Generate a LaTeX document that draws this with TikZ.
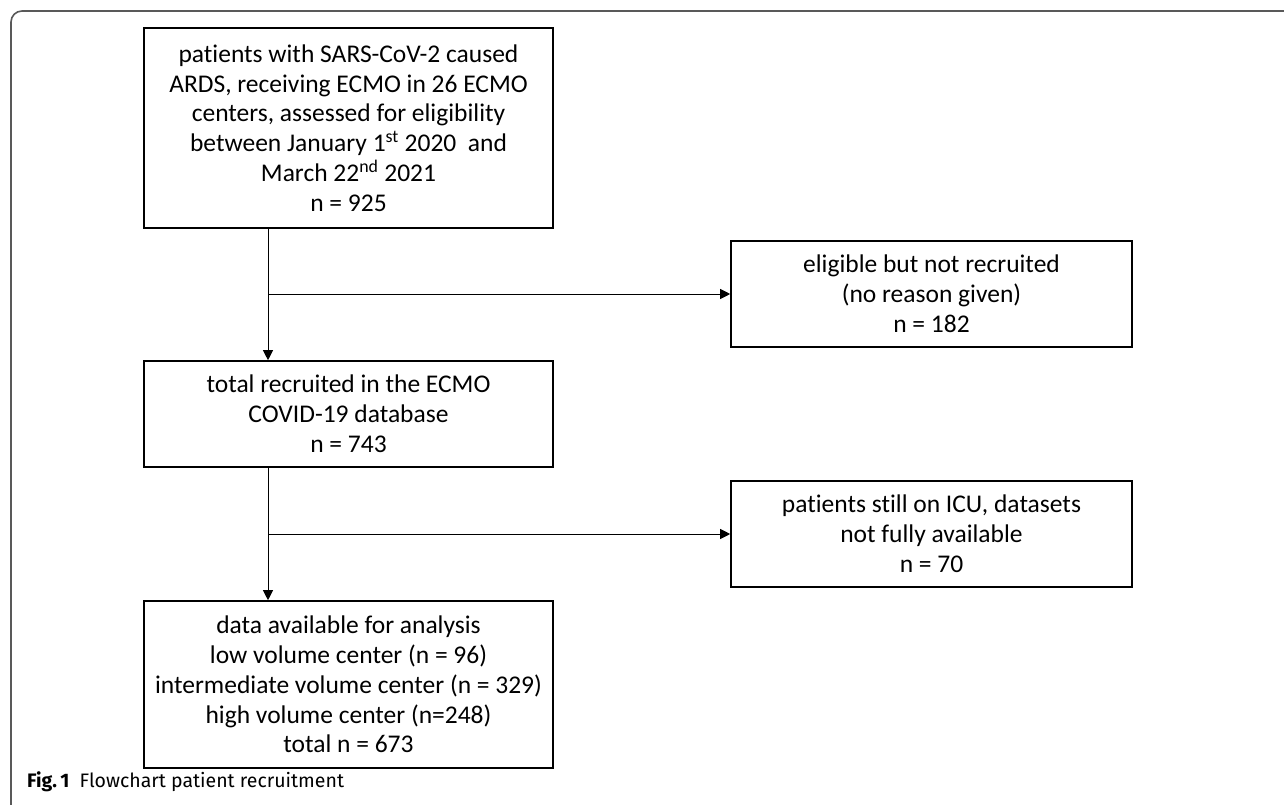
\documentclass[tikz,border=0pt]{standalone}
\usepackage{fontspec}
\setmainfont{Carlito}[Ligatures=NoCommon]
\newfontfamily\capfont{Fira Sans}[Ligatures=NoCommon]
\usepackage{tikz}
\usetikzlibrary{arrows.meta,positioning,calc}

\begin{document}
\begin{tikzpicture}[
  x=1pt, y=-1pt,
  block/.style={draw, line width=1.6pt, minimum width=409pt, align=center,
                font=\fontsize{25.5}{29.8}\selectfont, inner sep=0pt},
  sidebox/.style={block, minimum width=401pt, minimum height=106pt},
  arr/.style={-{Triangle[length=10pt,width=10pt]}, line width=0.9pt},
  frame/.style={draw=black!65, line width=1.6pt, rounded corners=11pt}
]
\useasboundingbox (0,0) rectangle (1284,805);
\draw[frame] (11,810) -- (11,11) -- (1290,11);

\node[block, minimum height=200pt] (screen) at (348.5,128)
  {patients with SARS-CoV-2 caused\\ARDS, receiving ECMO in 26 ECMO\\centers, assessed for eligibility\\between January 1\textsuperscript{st} 2020\ \ and\\March 22\textsuperscript{nd} 2021\\n = 925};
\node[sidebox] (notrec) at (931.5,294)
  {eligible but not recruited\\(no reason given)\\n = 182};
\node[block, minimum height=106pt] (recruited) at (348.5,414)
  {total recruited in the ECMO\\COVID-19 database\\n = 743};
\node[sidebox] (icu) at (931.5,534)
  {patients still on ICU, datasets\\not fully available\\n = 70};
\node[block, minimum height=167pt] (analysis) at (348.5,684.5)
  {data available for analysis\\low volume center (n = 96)\\intermediate volume center (n = 329)\\high volume center (n=248)\\total n = 673};

% main line, left of the box centres
\coordinate (spine) at (268,0);
\draw[arr] (screen.south -| spine) -- (recruited.north -| spine);
\draw[arr] (recruited.south -| spine) -- (analysis.north -| spine);
\draw[arr] (spine |- notrec) -- (notrec.west);
\draw[arr] (spine |- icu) -- (icu.west);

\node[anchor=base west, inner sep=0pt, font=\capfont\fontsize{19.5}{22}\selectfont] (caption) at (27,787)
  {\textbf{Fig.\,1}\ \ Flowchart patient recruitment};
\end{tikzpicture}
\end{document}
